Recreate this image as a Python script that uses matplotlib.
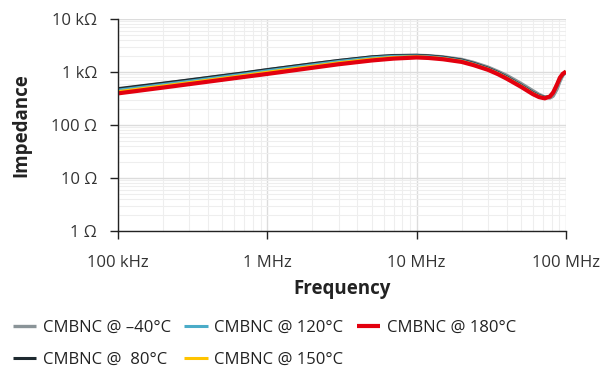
import matplotlib
matplotlib.use("Agg")
import matplotlib.pyplot as plt
from matplotlib.ticker import FixedLocator, LogLocator, NullFormatter

plt.rcParams['font.family'] = ['Open Sans', 'DejaVu Sans']

freq = [1e5, 2e5, 3e5, 5e5, 7e5, 1e6, 2e6, 3e6, 5e6, 7e6, 1e7, 1.2e7, 1.5e7, 2e7, 2.4e7,
        3e7, 3.5e7, 4e7, 5e7, 6e7, 6.6e7, 7.2e7, 7.8e7, 8.2e7, 8.7e7, 9.1e7, 9.5e7, 1e8]

z_m40 = [470, 605, 700, 845, 955, 1100, 1420, 1640, 1920, 2040, 2070, 2030, 1930, 1730, 1520,
         1240, 1030, 870, 610, 445, 378, 337, 322, 350, 470, 660, 850, 1000]
z_80 = [485, 615, 710, 855, 965, 1110, 1430, 1650, 1930, 2040, 2060, 2010, 1900, 1680, 1460,
        1180, 980, 810, 565, 410, 358, 332, 345, 400, 560, 750, 900, 1010]
z_120 = [455, 580, 670, 810, 915, 1055, 1360, 1580, 1850, 1970, 2000, 1950, 1840, 1630, 1420,
         1150, 955, 790, 553, 400, 352, 327, 345, 405, 570, 765, 910, 1015]
z_150 = [425, 545, 630, 760, 860, 990, 1280, 1490, 1750, 1880, 1940, 1890, 1790, 1590, 1385,
         1125, 935, 772, 540, 392, 344, 322, 345, 408, 575, 772, 915, 1018]
z_180 = [395, 508, 590, 713, 808, 920, 1200, 1400, 1650, 1790, 1880, 1840, 1740, 1550, 1350,
         1100, 910, 750, 525, 382, 336, 318, 345, 410, 580, 780, 920, 1020]

labels = ["CMBNC @ \u201340\u00b0C", "CMBNC @  80\u00b0C", "CMBNC @ 120\u00b0C",
          "CMBNC @ 150\u00b0C", "CMBNC @ 180\u00b0C"]
colors = ["#8a9498", "#1e2a30", "#4bacc8", "#ffc400", "#e3000f"]
widths = [2.4, 2.2, 2.2, 2.2, 3.0]

x_ticks = [1e5, 1e6, 1e7, 1e8]
x_labels = ["100 kHz", "1 MHz", "10 MHz", "100 MHz"]
y_ticks = [1, 10, 100, 1000, 10000]
y_labels = ["1 \u03a9", "10 \u03a9", "100 \u03a9", "1 k\u03a9", "10 k\u03a9"]

fig = plt.figure(figsize=(6.06, 3.69), dpi=100)
ax = fig.add_axes([118/606, 1-231/369, (566-118)/606, (231-19)/369])

series = [z_m40, z_80, z_120, z_150, z_180]
for z, lab, c, w in zip(series, labels, colors, widths):
    ax.plot(freq, z, color=c, lw=w, label=lab, solid_capstyle='butt', solid_joinstyle='round')

ax.set_xscale('log')
ax.set_yscale('log')
ax.set_xlim(1e5, 1e8)
ax.set_ylim(1, 1e4)

ax.xaxis.set_major_locator(FixedLocator(x_ticks))
ax.set_xticklabels(x_labels)
ax.yaxis.set_major_locator(FixedLocator(y_ticks))
ax.set_yticklabels(y_labels)
ax.xaxis.set_minor_locator(LogLocator(base=10, subs=range(2, 10)))
ax.yaxis.set_minor_locator(LogLocator(base=10, subs=range(2, 10)))
ax.xaxis.set_minor_formatter(NullFormatter())
ax.yaxis.set_minor_formatter(NullFormatter())

ax.grid(True, which='major', color='#dcdcdc', lw=1.0)
ax.grid(True, which='minor', color='#eeeeee', lw=0.8)
ax.set_axisbelow(True)

for s in ['top', 'right']:
    ax.spines[s].set_visible(False)
for s in ['left', 'bottom']:
    ax.spines[s].set_color('#222222')
    ax.spines[s].set_linewidth(1.0)

ax.tick_params(which='major', direction='out', length=6, width=1.0, color='#222222',
               labelsize=12, labelcolor='#333333')
ax.tick_params(axis='x', which='major', pad=11)
ax.tick_params(axis='y', which='major', pad=9)
ax.tick_params(which='minor', length=0)

ax.set_xlabel("Frequency", fontsize=13.5, fontweight='bold', color='#222222', labelpad=6)
ax.set_ylabel("Impedance", fontsize=13.5, fontweight='bold', color='#222222', labelpad=14)

fig.legend(loc='upper left', bbox_to_anchor=(0.021, 0.132), ncol=3, frameon=False,
           borderpad=0, borderaxespad=0,
           fontsize=12, handlelength=1.4, handletextpad=0.4, columnspacing=0.8,
           labelspacing=0.95, labelcolor='#222222')

fig.savefig("out.png", dpi=100)
